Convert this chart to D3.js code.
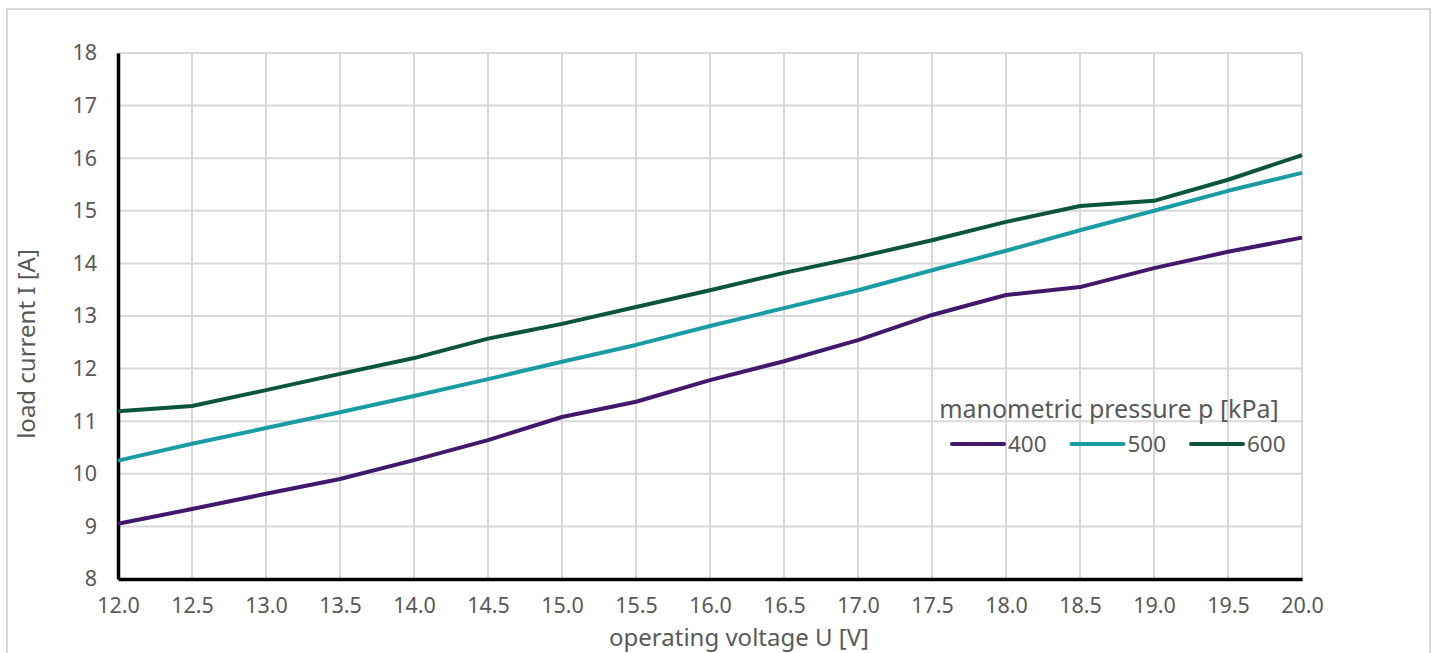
<!DOCTYPE html>
<html>
<head>
<meta charset="utf-8">
<script src="https://cdn.jsdelivr.net/npm/d3@7"></script>
<style>
  body { margin: 0; background: #fff; }
  text { font-family: "Noto Sans", Roboto, sans-serif; fill: #595959; }
</style>
</head>
<body>
<div id="chart"></div>
<script>
// data
const voltage = [12.0, 12.5, 13.0, 13.5, 14.0, 14.5, 15.0, 15.5, 16.0, 16.5, 17.0, 17.5, 18.0, 18.5, 19.0, 19.5, 20.0];
const current400 = [9.05, 9.33, 9.62, 9.90, 10.26, 10.64, 11.08, 11.37, 11.78, 12.14, 12.54, 13.02, 13.40, 13.55, 13.91, 14.22, 14.49];
const current500 = [10.25, 10.57, 10.87, 11.17, 11.48, 11.80, 12.13, 12.45, 12.81, 13.15, 13.49, 13.87, 14.24, 14.63, 15.00, 15.38, 15.72];
const current600 = [11.19, 11.29, 11.59, 11.90, 12.20, 12.57, 12.85, 13.17, 13.49, 13.82, 14.12, 14.44, 14.79, 15.09, 15.19, 15.59, 16.06];
const pressures = ["400", "500", "600"];
const yTicks = [8, 9, 10, 11, 12, 13, 14, 15, 16, 17, 18];

const width = 1440, height = 653;
const margin = { top: 53, bottom: 74, left: 118, right: 138 };
const colors = { "400": "#40186c", "500": "#1a9ca4", "600": "#0b553f" };

const series = [
  { name: "400", values: current400 },
  { name: "500", values: current500 },
  { name: "600", values: current600 }
];

const svg = d3.select("#chart").append("svg")
  .attr("width", width)
  .attr("height", height);

// outer frame
svg.append("rect")
  .attr("x", 7).attr("y", 9)
  .attr("width", 1423).attr("height", 660)
  .attr("fill", "none")
  .attr("stroke", "#d9d9d9")
  .attr("stroke-width", 2);

const xScale = d3.scaleLinear()
  .domain([12, 20])
  .range([margin.left, width - margin.right]);

const yScale = d3.scaleLinear()
  .domain([8, 18])
  .range([height - margin.bottom, margin.top]);

// grid
svg.append("g")
  .selectAll("line.vgrid")
  .data(voltage)
  .join("line")
  .attr("class", "vgrid")
  .attr("x1", d => xScale(d)).attr("x2", d => xScale(d))
  .attr("y1", yScale(18)).attr("y2", yScale(8))
  .attr("stroke", "#d9d9d9").attr("stroke-width", 2);

svg.append("g")
  .selectAll("line.hgrid")
  .data(yTicks)
  .join("line")
  .attr("class", "hgrid")
  .attr("x1", xScale(12)).attr("x2", xScale(20))
  .attr("y1", d => yScale(d)).attr("y2", d => yScale(d))
  .attr("stroke", "#d9d9d9").attr("stroke-width", 2);

// axes
const xAxis = d3.axisBottom(xScale).tickValues(voltage).tickFormat(d3.format(".1f")).tickSize(0).tickPadding(19);
const yAxis = d3.axisLeft(yScale).tickValues(yTicks).tickFormat(d3.format("d")).tickSize(0).tickPadding(21);

const gx = svg.append("g")
  .attr("transform", `translate(0,${yScale(8)})`)
  .call(xAxis);
const gy = svg.append("g")
  .attr("transform", `translate(${xScale(12)},0)`)
  .call(yAxis);

[gx, gy].forEach(g => {
  g.select(".domain").attr("stroke", "#000").attr("stroke-width", 3.5);
  g.selectAll(".tick text").style("font-size", "21.5px").attr("fill", "#595959");
});

// lines
const line = d3.line()
  .x((d, i) => xScale(voltage[i]))
  .y(d => yScale(d));

svg.append("g")
  .selectAll("path.series")
  .data(series)
  .join("path")
  .attr("class", "series")
  .attr("d", d => line(d.values))
  .attr("fill", "none")
  .attr("stroke", d => colors[d.name])
  .attr("stroke-width", 4)
  .attr("stroke-linejoin", "round");

// axis labels
svg.append("text")
  .attr("x", 739)
  .attr("y", 646)
  .attr("text-anchor", "middle")
  .style("font-size", "24px")
  .text("operating voltage U [V]");

svg.append("text")
  .attr("transform", `translate(35,344) rotate(-90)`)
  .attr("text-anchor", "middle")
  .style("font-size", "24px")
  .text("load current I [A]");

// legend
const legend = svg.append("g");
legend.append("text")
  .attr("x", 1109).attr("y", 418)
  .attr("text-anchor", "middle")
  .style("font-size", "25px")
  .text("manometric pressure p [kPa]");

const item = legend.selectAll("g.item")
  .data(pressures)
  .join("g")
  .attr("class", "item")
  .attr("transform", (d, i) => `translate(${952 + i * 119.5},444)`);

item.append("line")
  .attr("x1", 0).attr("x2", 52)
  .attr("stroke", d => colors[d])
  .attr("stroke-width", 4)
  .attr("stroke-linecap", "round");

item.append("text")
  .attr("x", 56).attr("y", 8)
  .style("font-size", "22.5px")
  .text(d => d);
</script>
</body>
</html>
